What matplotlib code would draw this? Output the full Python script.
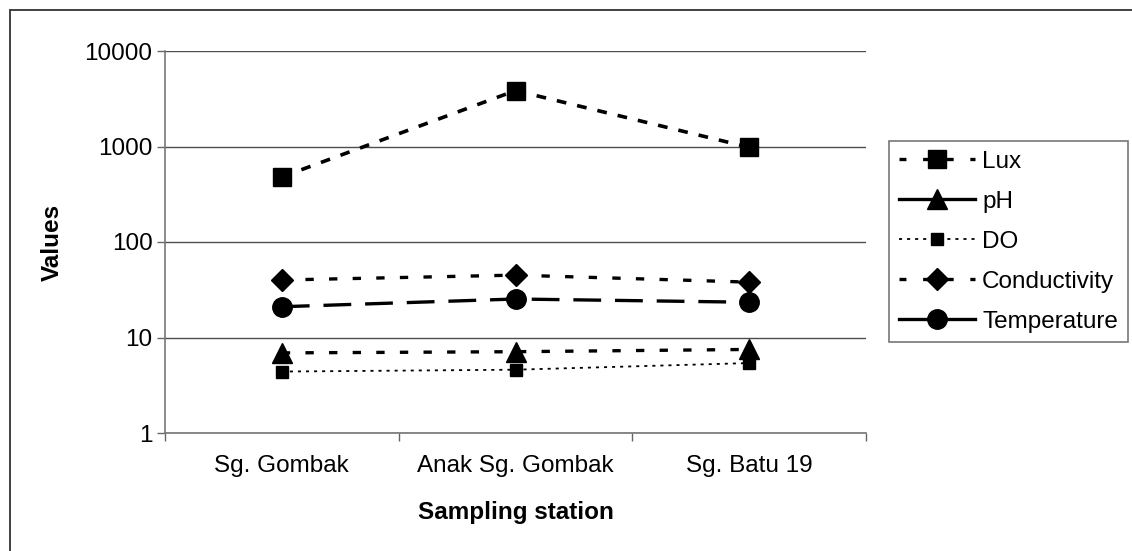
import matplotlib
matplotlib.use("Agg")
import matplotlib.pyplot as plt
from matplotlib.lines import Line2D
from matplotlib.patches import Rectangle

plt.rcParams['font.family'] = ['Liberation Sans', 'DejaVu Sans']
plt.rcParams['lines.scale_dashes'] = False

stations = ["Sg. Gombak", "Anak Sg. Gombak", "Sg. Batu 19"]
lux = [480, 3850, 980]
ph = [6.9, 7.1, 7.5]
do = [4.4, 4.6, 5.4]
conductivity = [40, 45, 38]
temperature = [21, 25.3, 23.4]

y_ticks = [1, 10, 100, 1000, 10000]
y_tick_labels = ["1", "10", "100", "1000", "10000"]

FS = 17.5
W, H = 1132, 551
fig = plt.figure(figsize=(W / 100, H / 100), dpi=100)
ax = fig.add_axes([165 / W, 1 - 433 / H, 701 / W, 382 / H])

# outer chart frame
fig.patches.append(Rectangle((10 / W, -0.1), 1.2, 1 - 10 / H + 0.1,
                             transform=fig.transFigure, fill=False,
                             edgecolor="#333333", linewidth=1.3))

x = list(range(len(stations)))

ax.plot(x, lux, color="black", lw=2.6, dashes=(7, 8), marker="s",
        markersize=13.5, zorder=5)
ax.plot(x, ph, color="black", lw=2.4, dashes=(6, 11), marker="^",
        markersize=14, zorder=5)
ax.plot(x, do, color="black", lw=1.3, dashes=(2.2, 3.6), marker="s",
        markersize=8, zorder=5)
ax.plot(x, conductivity, color="black", lw=2.4, dashes=(6, 11), marker="D",
        markersize=11, zorder=5)
ax.plot(x, temperature, color="black", lw=2.4, dashes=(20, 10), marker="o",
        markersize=14, zorder=5)

ax.set_yscale("log")
ax.set_ylim(1, 10000)
ax.set_xlim(-0.5, len(stations) - 0.5)
ax.set_yticks(y_ticks)
ax.set_yticklabels(y_tick_labels, fontsize=FS)
ax.yaxis.set_minor_locator(matplotlib.ticker.NullLocator())
ax.tick_params(axis="y", which="major", length=6, width=1, color="#666666", pad=3)

ax.set_xticks([-0.5, 0.5, 1.5, 2.5])
ax.set_xticklabels([])
ax.set_xticks(x, minor=True)
ax.set_xticklabels(stations, minor=True, fontsize=FS)
ax.tick_params(axis="x", which="major", length=6, width=1, color="#666666")
ax.tick_params(axis="x", which="minor", length=0, pad=16)

ax.grid(axis="y", which="major", color="#4d4d4d", linewidth=1)
ax.set_axisbelow(True)
for side in ("top", "right"):
    ax.spines[side].set_visible(False)
for side in ("left", "bottom"):
    ax.spines[side].set_color("#777777")
    ax.spines[side].set_linewidth(1.2)

ax.set_xlabel("Sampling station", fontsize=FS, fontweight="bold")
ax.xaxis.set_label_coords(0.5, (433 - 513) / 382)
ax.xaxis.label.set_va("center")
ax.set_ylabel("Values", fontsize=FS, fontweight="bold")
ax.yaxis.set_label_coords((52 - 165) / 701, 0.5)
ax.yaxis.label.set_va("center")

handles = [
    Line2D([], [], color="black", lw=2.4, dashes=(5, 12), marker="s", markersize=13.5),
    Line2D([], [], color="black", lw=2.4, marker="^", markersize=14),
    Line2D([], [], color="black", lw=1.3, dashes=(2.2, 3.6), marker="s", markersize=8),
    Line2D([], [], color="black", lw=2.4, dashes=(5, 12), marker="D", markersize=11),
    Line2D([], [], color="black", lw=2.4, marker="o", markersize=14),
]
labels = ["Lux", "pH", "DO", "Conductivity", "Temperature"]
leg = fig.legend(handles, labels, loc="upper left",
                 bbox_to_anchor=(889 / W, 1 - 141 / H),
                 bbox_transform=fig.transFigure,
                 fontsize=FS, frameon=True, fancybox=False,
                 edgecolor="#555555", handlelength=3.15, handletextpad=0.28,
                 labelspacing=0.74, borderpad=0.4, borderaxespad=0,
                 markerscale=1.0)
leg.get_frame().set_linewidth(1.2)

fig.savefig("out.png", dpi=100)
